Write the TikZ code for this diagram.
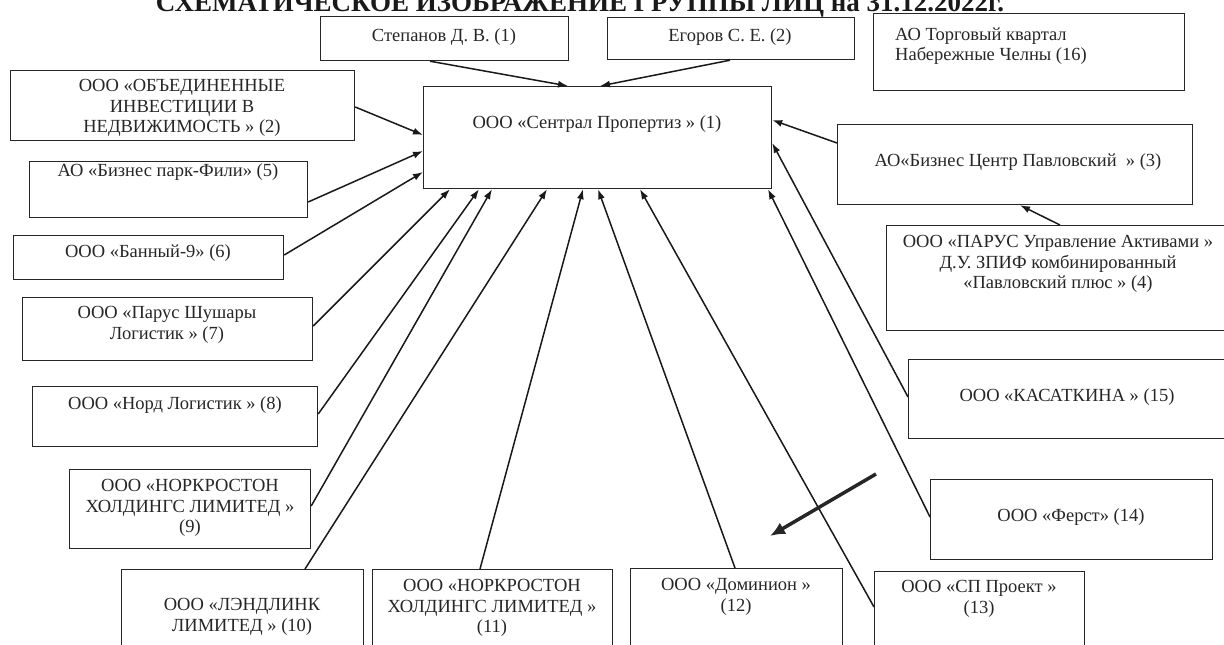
\documentclass[tikz,border=0pt]{standalone}
\usepackage{fontspec}
\setmainfont{Liberation Serif}
\usetikzlibrary{arrows.meta,calc}
\begin{document}
\begin{tikzpicture}[x=1pt,y=-1pt,
 box/.style={draw=black!85,line width=1.2pt,inner sep=0pt,anchor=north west},
 txt/.style={font=\fontsize{18.5}{20.5}\selectfont,align=center,inner sep=0pt,text=black!85},
 conn/.style={line width=1.5pt,draw=black!90,-{Latex[length=10pt,width=7pt]}},
 bigarrow/.style={line width=3.5pt,draw=black!85,-{Latex[length=15pt,width=13pt]}}]
\useasboundingbox (0,0) rectangle (1224,645);
\clip (0,0) rectangle (1224,645);
% title (cut at the top edge, as in the reference)
\node[font=\fontsize{27}{29}\selectfont\bfseries,anchor=base,inner sep=0pt,text=black!90] (title) at (580,12) {СХЕМАТИЧЕСКОЕ ИЗОБРАЖЕНИЕ ГРУППЫ ЛИЦ на 31.12.2022г.};
% boxes
\node[box,minimum width=248pt,minimum height=44pt] (step) at (320,16) {};
\node[box,minimum width=247pt,minimum height=42pt] (egor) at (607,17) {};
\node[box,minimum width=311pt,minimum height=77pt] (torg) at (873,13) {};
\node[box,minimum width=344pt,minimum height=70pt] (obj) at (10,70) {};
\node[box,minimum width=348pt,minimum height=102pt] (cen) at (423,86) {};
\node[box,minimum width=278pt,minimum height=56pt] (fili) at (29,161) {};
\node[box,minimum width=270pt,minimum height=44pt] (bann) at (13,235) {};
\node[box,minimum width=290pt,minimum height=63pt] (shush) at (22,297) {};
\node[box,minimum width=285pt,minimum height=60pt] (nord) at (32,386) {};
\node[box,minimum width=241pt,minimum height=79pt] (norkA) at (69,469) {};
\node[box,minimum width=242pt,minimum height=110pt] (lend) at (121,569) {};
\node[box,minimum width=240pt,minimum height=110pt] (norkB) at (372,569) {};
\node[box,minimum width=212pt,minimum height=110pt] (domin) at (630,568) {};
\node[box,minimum width=210pt,minimum height=110pt] (sp) at (874,571) {};
\node[box,minimum width=355pt,minimum height=80pt] (bcp) at (837,124) {};
\node[box,minimum width=344pt,minimum height=105pt] (parus) at (886,225) {};
\node[box,minimum width=318pt,minimum height=79pt] (kas) at (908,359) {};
\node[box,minimum width=282pt,minimum height=80pt] (ferst) at (930,479) {};
% texts
\node[txt] (step-t) at (444,37) {Степанов Д. В. (1)};
\node[txt] (egor-t) at (730,37) {Егоров С. Е. (2)};
\node[txt,align=left,anchor=west] (torg-t) at (895,46) {АО Торговый квартал\\Набережные Челны (16)};
\node[txt] (obj-t) at (182,108) {ООО «ОБЪЕДИНЕННЫЕ\\ИНВЕСТИЦИИ В\\НЕДВИЖИМОСТЬ » (2)};
\node[txt] (cen-t) at (597,124) {ООО «Сентрал Пропертиз » (1)};
\node[txt] (fili-t) at (168,172) {АО «Бизнес парк-Фили» (5)};
\node[txt] (bann-t) at (148,253) {ООО «Банный-9» (6)};
\node[txt] (shush-t) at (167,325) {ООО «Парус Шушары\\Логистик » (7)};
\node[txt] (nord-t) at (175,405) {ООО «Норд Логистик » (8)};
\node[txt] (norkA-t) at (190,508) {ООО «НОРКРОСТОН\\ХОЛДИНГС ЛИМИТЕД »\\(9)};
\node[txt] (lend-t) at (242,617) {ООО «ЛЭНДЛИНК\\ЛИМИТЕД » (10)};
\node[txt] (norkB-t) at (492,608) {ООО «НОРКРОСТОН\\ХОЛДИНГС ЛИМИТЕД »\\(11)};
\node[txt] (domin-t) at (736,597) {ООО «Доминион »\\(12)};
\node[txt] (sp-t) at (979,599) {ООО «СП Проект »\\(13)};
\node[txt] (bcp-t) at (1018,162) {АО«Бизнес Центр Павловский~~» (3)};
\node[txt] (parus-t) at (1058,264) {ООО «ПАРУС Управление Активами »\\Д.У. ЗПИФ комбинированный\\«Павловский плюс » (4)};
\node[txt] (kas-t) at (1067,397) {ООО «КАСАТКИНА » (15)};
\node[txt] (ferst-t) at (1071,517) {ООО «Ферст» (14)};
% connectors
\draw[conn] ($(step.south west)!(430,0)!(step.south east)$) -- ($(cen.north west)!(568,0)!(cen.north east)$);
\draw[conn] ($(egor.south west)!(730,0)!(egor.south east)$) -- ($(cen.north west)!(600,0)!(cen.north east)$);
\draw[conn] ($(obj.north east)!(0,107)!(obj.south east)$) -- ($(cen.north west)!(0,135)!(cen.south west)$);
\draw[conn] ($(fili.north east)!(0,202)!(fili.south east)$) -- ($(cen.north west)!(0,151)!(cen.south west)$);
\draw[conn] ($(bann.north east)!(0,255)!(bann.south east)$) -- ($(cen.north west)!(0,172)!(cen.south west)$);
\draw[conn] ($(shush.north east)!(0,326)!(shush.south east)$) -- ($(cen.south west)!(450,0)!(cen.south east)$);
\draw[conn] ($(nord.north east)!(0,414)!(nord.south east)$) -- ($(cen.south west)!(479,0)!(cen.south east)$);
\draw[conn] ($(norkA.north east)!(0,506)!(norkA.south east)$) -- ($(cen.south west)!(492,0)!(cen.south east)$);
\draw[conn] ($(lend.north west)!(305,0)!(lend.north east)$) -- ($(cen.south west)!(547,0)!(cen.south east)$);
\draw[conn] ($(norkB.north west)!(480,0)!(norkB.north east)$) -- ($(cen.south west)!(583,0)!(cen.south east)$);
\draw[conn] ($(domin.north west)!(735,0)!(domin.north east)$) -- ($(cen.south west)!(598,0)!(cen.south east)$);
\draw[conn] ($(sp.north west)!(0,607)!(sp.south west)$) -- ($(cen.south west)!(640,0)!(cen.south east)$);
\draw[conn] ($(ferst.north west)!(0,517)!(ferst.south west)$) -- ($(cen.south west)!(768,0)!(cen.south east)$);
\draw[conn] ($(kas.north west)!(0,397)!(kas.south west)$) -- ($(cen.north east)!(0,143)!(cen.south east)$);
\draw[conn] ($(bcp.north west)!(0,143)!(bcp.south west)$) -- ($(cen.north east)!(0,120)!(cen.south east)$);
\draw[conn] ($(parus.north west)!(1060,0)!(parus.north east)$) -- ($(bcp.south west)!(1020,0)!(bcp.south east)$);
% free thick arrow
\coordinate (fa-start) at (876,474);
\coordinate (fa-end) at (770,536);
\draw[bigarrow] (fa-start) -- (fa-end);
\end{tikzpicture}
\end{document}
